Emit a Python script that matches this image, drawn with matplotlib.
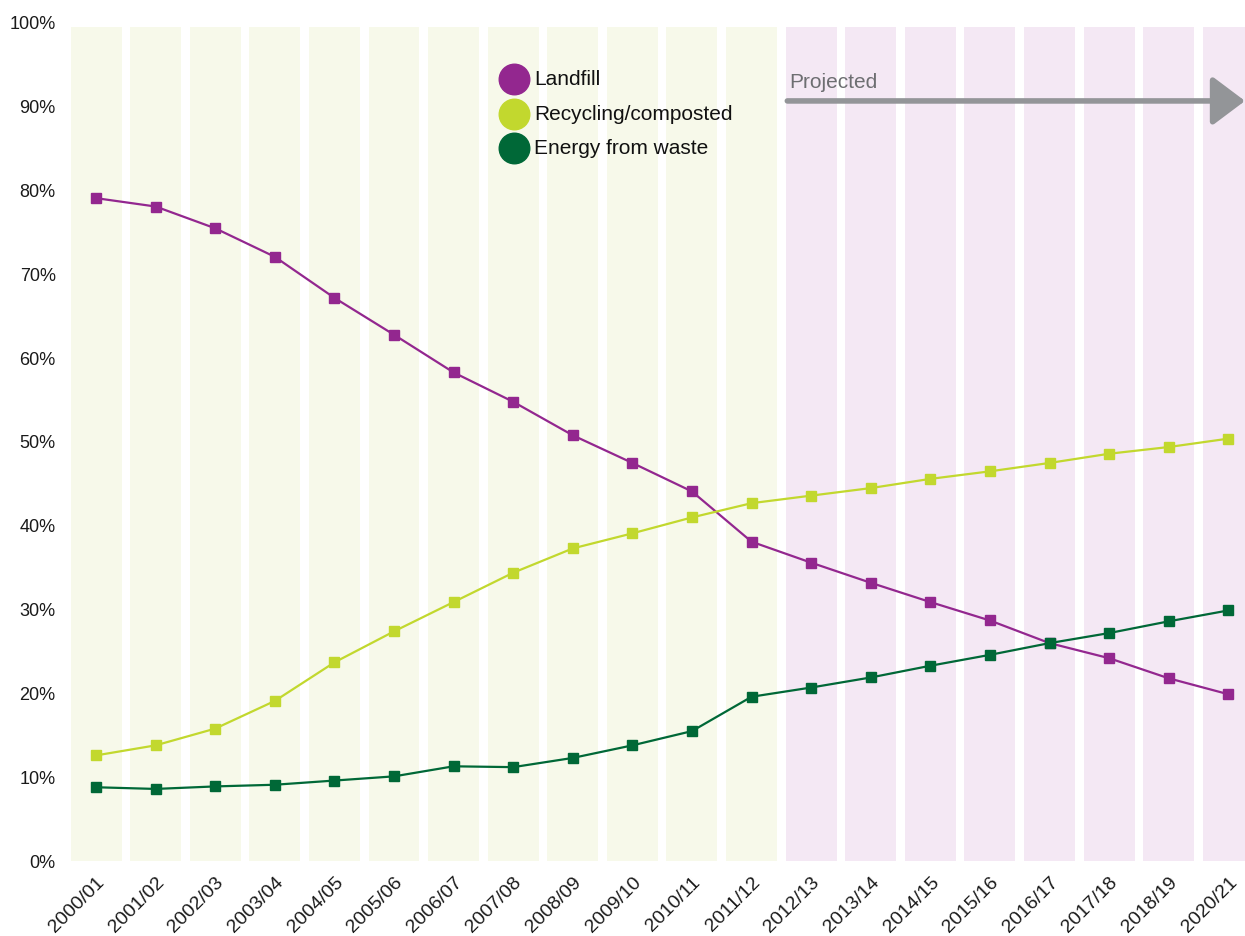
import numpy as np
import matplotlib
matplotlib.use("Agg")
import matplotlib.pyplot as plt
import matplotlib.transforms as mtransforms

plt.rcParams['font.family'] = ['Liberation Sans', 'DejaVu Sans']

years = ['2000/01', '2001/02', '2002/03', '2003/04', '2004/05', '2005/06',
         '2006/07', '2007/08', '2008/09', '2009/10', '2010/11', '2011/12',
         '2012/13', '2013/14', '2014/15', '2015/16', '2016/17', '2017/18',
         '2018/19', '2020/21']
n_actual = 12  # first 12 years are outturn, rest projected

landfill = [79.1, 78.1, 75.5, 72.1, 67.2, 62.8, 58.3, 54.8, 50.8, 47.5,
            44.1, 38.1, 35.6, 33.2, 30.9, 28.7, 26.0, 24.2, 21.8, 19.9]
recycling = [12.6, 13.8, 15.8, 19.1, 23.7, 27.4, 30.9, 34.4, 37.3, 39.1,
             41.0, 42.7, 43.6, 44.5, 45.6, 46.5, 47.5, 48.6, 49.4, 50.4]
energy = [8.8, 8.6, 8.9, 9.1, 9.6, 10.1, 11.3, 11.2, 12.3, 13.8,
          15.5, 19.6, 20.7, 21.9, 23.3, 24.6, 26.0, 27.2, 28.6, 29.9]

series = [('Landfill', landfill, '#93278f'),
          ('Recycling/composted', recycling, '#c2d82e'),
          ('Energy from waste', energy, '#006837')]

W, H = 1245, 936
fig = plt.figure(figsize=(W / 100, H / 100), dpi=100)
ax = fig.add_axes([71 / W, 1 - 861 / H, 1 - 71 / W, (861 - 23) / H])

x = np.arange(len(years))

# background columns: green for outturn, lilac for projections
for i in x:
    col = '#f7f9ea' if i < n_actual else '#f4e8f4'
    ax.bar(i, 99.5, width=0.855, color=col, zorder=0)

for name, vals, col in series:
    ax.plot(x, vals, color=col, lw=1.6, marker='s', ms=7, zorder=3)

ax.set_xlim(-0.42, 19.28)
ax.set_ylim(0, 100)
ax.set_yticks(np.arange(0, 101, 10))
ax.set_yticklabels([f'{v}%' for v in range(0, 101, 10)], fontsize=13)
ax.set_xticks(x)
ax.set_xticklabels(years, fontsize=14, rotation=45, ha='right', va='top',
                   rotation_mode='anchor')
offset = mtransforms.ScaledTranslation(6 / 100, 0, fig.dpi_scale_trans)
for lbl in ax.get_xticklabels():
    lbl.set_transform(lbl.get_transform() + offset)
ax.tick_params(axis='both', length=0, colors='#1a1a1a')
ax.tick_params(axis='y', pad=11)
ax.tick_params(axis='x', pad=9)
for s in ax.spines.values():
    s.set_visible(False)

# projected arrow
ax.annotate('', xy=(19.28, 90.7), xytext=(11.6, 90.7),
            arrowprops=dict(arrowstyle='-|>,head_length=1.0,head_width=0.75',
                            mutation_scale=20, lw=4, color='#939598',
                            shrinkA=0, shrinkB=0),
            annotation_clip=False, zorder=4)
ax.text(11.63, 91.8, 'Projected', fontsize=15, color='#6d6e71',
        ha='left', va='bottom')

# legend
for k, (name, vals, col) in enumerate(series):
    yk = 1 - (79 + 34.5 * k) / H
    fig.lines.append(plt.Line2D([514 / W], [yk], marker='o', ms=22,
                                color=col, mec=col, transform=fig.transFigure))
    fig.text(534 / W, yk - 0.001, name, fontsize=15, color='#111111',
             ha='left', va='center')

fig.savefig('out.png', dpi=100)
